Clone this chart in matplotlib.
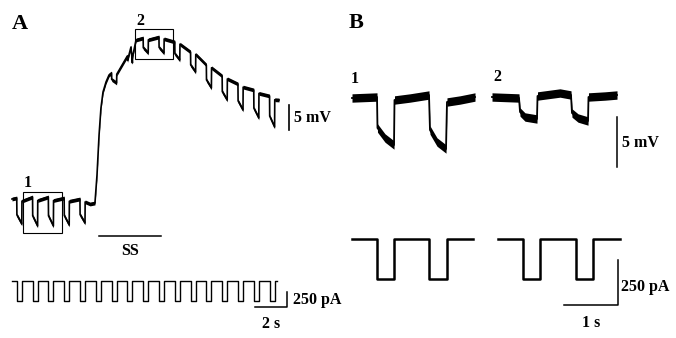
"""Voltage responses to hyperpolarising current pulses (panels A and B)."""

import matplotlib

matplotlib.use("Agg")
import matplotlib.pyplot as plt
from matplotlib.patches import Rectangle

W, H = 676, 338

# ---- Panel A: long recording (time in s, voltage in mV above rest) ----
a_pulse_on = [0.3, 1.3, 2.3, 3.3, 4.3, 5.3, 6.3, 7.3, 8.3, 9.3, 10.3,
              11.3, 12.3, 13.3, 14.3, 15.3, 16.3]
a_pulse_dur = 0.32
# voltage response to each pulse (the pulse at 5.3 s is hidden in the rise)
a_resp_on = [0.3, 1.3, 2.3, 3.3, 4.3, 6.3, 7.3, 8.3, 9.3, 10.3,
             11.3, 12.3, 13.3, 14.3, 15.3, 16.3]
a_resp_pre = [-0.2, 0.0, 0.0, -0.2, -0.4, 24.8, 28.2, 31.8, 32.0, 31.0,
              29.0, 26.4, 24.2, 22.6, 21.4, 20.2]
a_resp_bottom = [-5.4, -5.8, -5.8, -5.6, -5.2, 22.8, 26.8, 28.8, 28.8, 27.4,
                 25.0, 21.8, 19.4, 17.4, 15.8, 14.0]
# membrane potential between pulses (start, rise, plateau, end)
a_env_t = [0.0, 4.94, 5.25, 5.38, 5.51, 5.63, 5.76, 5.95, 6.14, 7.53, 7.85, 16.9]
a_env_v = [-0.4, -1.4, -1.2, 4.4, 12.4, 17.8, 21.0, 23.0, 24.4, 30.0, 31.4, 19.4]
a_current_amp = -333.0   # pA
a_current_end = 16.77    # s
a_box1 = (0.70, 3.16, -7.2, 1.0)     # t0, t1, v0, v1
a_box2 = (7.78, 10.19, 27.6, 33.6)
a_ss = (5.5, 9.4)                    # steady-state bar, s

# ---- Panel B: expanded sweeps 1 and 2 ----
b1_t = [0.0, 0.463, 0.472, 0.611, 0.778, 0.787, 1.074, 1.426, 1.444, 1.574,
        1.741, 1.759, 2.0, 2.278]
b1_v = [0.0, 0.1, -3.0, -4.0, -4.7, -0.2, 0.0, 0.3, -3.2, -4.4, -5.1, -0.4, -0.2, 0.1]
b2_t = [0.0, 0.5, 0.519, 0.611, 0.833, 0.843, 1.259, 1.463, 1.481, 1.593,
        1.778, 1.787, 2.093, 2.315]
b2_v = [0.1, 0.0, -1.4, -1.9, -2.1, 0.2, 0.5, 0.3, -1.5, -2.0, -2.3, 0.1, 0.2, 0.3]
b1_i_t = [0.0, 0.463, 0.778, 1.426, 1.759, 2.24]
b2_i_t = [0.0, 0.463, 0.778, 1.444, 1.759, 2.26]
b_i_level = [0.0, -222.0, 0.0, -222.0, 0.0, 0.0]

SERIF = ["Liberation Serif", "DejaVu Serif"]


def place_axes(fig, left, top, width, height, x0_px, y0_px, px_per_x, px_per_y):
    """Axes over a pixel box, with data origin at (x0_px, y0_px)."""
    ax = fig.add_axes([left / W, 1 - (top + height) / H, width / W, height / H])
    ax.set_xlim((left - x0_px) / px_per_x, (left + width - x0_px) / px_per_x)
    ax.set_ylim((y0_px - (top + height)) / px_per_y, (y0_px - top) / px_per_y)
    ax.axis("off")
    return ax


def label(fig, x, y, text, size=11.5, ha="left"):
    fig.text(x / W, 1 - y / H, text, ha=ha, va="center", fontsize=size,
             fontweight="bold", family=SERIF)


def voltage_trace_a():
    points = list(zip(a_env_t, a_env_v))
    for t_on, pre, bottom in zip(a_resp_on, a_resp_pre, a_resp_bottom):
        depth = pre - bottom
        points += [
            (t_on, pre),
            (t_on + 0.01, pre - 0.65 * depth),
            (t_on + a_pulse_dur, bottom),
            (t_on + a_pulse_dur + 0.01, pre - 0.12 * depth),
        ]
    points.sort()
    return [p[0] for p in points], [p[1] for p in points]


def current_trace_a():
    t, i = [0.0], [0.0]
    for t_on in a_pulse_on:
        t += [t_on, t_on + a_pulse_dur]
        i += [a_current_amp, 0.0]
    t.append(a_current_end)
    i.append(0.0)
    return t, i


def band(ax, t, v, half, lw):
    lo = [x - half for x in v]
    hi = [x + half for x in v]
    ax.fill_between(t, lo, hi, color="black", lw=0)
    ax.plot(t, v, color="black", lw=lw)


fig = plt.figure(figsize=(W / 100, H / 100), dpi=100)

# Panel A voltage
ax_av = place_axes(fig, 0, 10, 345, 260, 12, 197, 15.8, 5.0)
t_a, v_a = voltage_trace_a()
band(ax_av, t_a, v_a, 0.38, 1.2)
for t0, t1, v0, v1 in (a_box1, a_box2):
    ax_av.add_patch(Rectangle((t0, v0), t1 - t0, v1 - v0, fill=False,
                              lw=0.8, ec="black"))
ax_av.plot(a_ss, [-7.8, -7.8], color="black", lw=1.1)
ax_av.plot([17.5, 17.5], [13.4, 18.4], color="black", lw=1.2)

# Panel A current
ax_ai = place_axes(fig, 0, 270, 345, 68, 12, 281, 15.8, 0.06)
t_i, i_a = current_trace_a()
ax_ai.plot(t_i, i_a, color="black", lw=1.0, drawstyle="steps-post")
ax_ai.plot([15.4, 17.4, 17.4], [-433, -433, -183], color="black", lw=1.1)

# Panel B voltage
ax_b1 = place_axes(fig, 345, 60, 135, 120, 352, 98, 54.0, 10.0)
band(ax_b1, b1_t, b1_v, 0.42, 1.3)
ax_b2 = place_axes(fig, 485, 60, 190, 120, 492, 98, 54.0, 10.0)
band(ax_b2, b2_t, b2_v, 0.42, 1.3)
ax_b2.plot([2.31, 2.31], [-1.9, -6.9], color="black", lw=1.1)

# Panel B current
ax_c1 = place_axes(fig, 345, 200, 135, 138, 352, 239, 54.0, 0.18)
ax_c1.plot(b1_i_t, b_i_level, color="black", lw=1.8, drawstyle="steps-post")
ax_c2 = place_axes(fig, 485, 200, 190, 138, 498, 239, 54.0, 0.18)
ax_c2.plot(b2_i_t, b_i_level, color="black", lw=1.8, drawstyle="steps-post")
ax_c2.plot([1.22, 2.22, 2.22], [-367, -367, -117], color="black", lw=1.1)

# labels
label(fig, 20, 24, "A", size=16, ha="center")
label(fig, 356, 23, "B", size=16, ha="center")
label(fig, 28, 183, "1", ha="center")
label(fig, 140, 21, "2", ha="center")
label(fig, 355, 79, "1", ha="center")
label(fig, 497, 77, "2", ha="center")
label(fig, 294, 118, "5 mV")
label(fig, 130, 251, "SS", ha="center")
label(fig, 293, 300, "250 pA")
label(fig, 271, 324, "2 s", ha="center")
label(fig, 622, 143, "5 mV")
label(fig, 621, 287, "250 pA")
label(fig, 591, 323, "1 s", ha="center")

fig.savefig("out.png", dpi=100)
